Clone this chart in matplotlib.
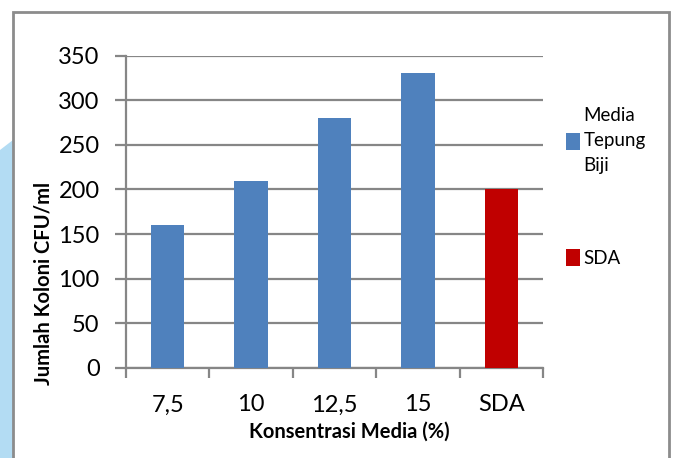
import numpy as np
import matplotlib.pyplot as plt
from matplotlib.patches import Rectangle, Polygon

plt.rcParams['font.family'] = ['Lato', 'DejaVu Sans']

# data
kategori = ['7,5', '10', '12,5', '15', 'SDA']
media_tepung = [160, 210, 280, 330, 0]
sda = [0, 0, 0, 0, 200]
yticks = [0, 50, 100, 150, 200, 250, 300, 350]

W, H = 673, 458
fig = plt.figure(figsize=(W / 100, H / 100), dpi=100)

# faint watermark strip left of the frame
fig.add_artist(Polygon([(0, 1 - 150 / H), (13 / W, 1 - 140 / H), (13 / W, 0), (0, 0)],
                       closed=True, transform=fig.transFigure, facecolor='#b3dcf3',
                       edgecolor='none', zorder=-2))
# outer chart frame
fig.add_artist(Rectangle((13 / W, -0.1), (669 - 13) / W, 1.1 - 12 / H,
                         transform=fig.transFigure, facecolor='white',
                         edgecolor='#8c8c8c', linewidth=2, zorder=-1))

ax = fig.add_axes([126 / W, 1 - 368 / H, (543 - 126) / W, (368 - 55.5) / H])
ax.set_facecolor('none')

x = np.arange(len(kategori))
b1 = ax.bar(x, media_tepung, width=0.4, color='#4f81bd', zorder=3, label='Media\nTepung\nBiji')
b2 = ax.bar(x, sda, width=0.4, color='#c00000', zorder=3, label='SDA')

ax.set_xlim(-0.5, len(kategori) - 0.5)
ax.set_ylim(0, 350)
ax.set_yticks(yticks)
ax.yaxis.grid(True, color='#868686', linewidth=1.6)
ax.set_axisbelow(True)

ax.set_xticks(x)
ax.set_xticklabels(kategori)
ax.set_xticks(np.arange(len(kategori) + 1) - 0.5, minor=True)
ax.tick_params(axis='x', which='major', length=0, labelsize=17, pad=19)
ax.tick_params(axis='x', which='minor', length=7, width=1.6, color='#868686', direction='out')
ax.tick_params(axis='y', length=8, width=1.6, color='#868686', labelsize=17, pad=11)

for s in ['top', 'right']:
    ax.spines[s].set_visible(False)
for s in ['left', 'bottom']:
    ax.spines[s].set_color('#868686')
    ax.spines[s].set_linewidth(1.6)

ax.set_xlabel('Konsentrasi Media (%)', fontsize=14.5, fontweight='bold')
ax.set_ylabel('Jumlah Koloni CFU/ml', fontsize=14.5, fontweight='bold')
ax.xaxis.set_label_coords(0.535, -0.205)
ax.yaxis.set_label_coords(-0.199, 0.272)
ax.xaxis.label.set_va('center')
ax.yaxis.label.set_va('center')

leg = fig.legend(handles=[b1, b2], loc='upper left', bbox_to_anchor=(557 / W, 1 - 98 / H),
                 frameon=False, fontsize=13.5, handlelength=0.7, handleheight=1.0,
                 handletextpad=0.2, labelspacing=4.0, borderpad=0)
for t in leg.get_texts():
    t.set_linespacing(1.55)

fig.savefig('out.png', dpi=100)
